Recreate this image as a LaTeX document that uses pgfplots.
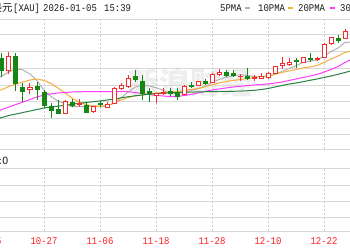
\documentclass[border=0pt]{standalone}
\usepackage{fontspec}
\usepackage{pgfplots}
\pgfplotsset{compat=1.18}
\usepackage{pgfplotstable}
\newfontfamily\mono{Liberation Mono}[FakeStretch=0.87]
\newfontfamily\cjk{Noto Sans CJK SC}
\newfontfamily\sans{DejaVu Sans}

\definecolor{cred}{RGB}{245,45,45}
\definecolor{cgreen}{RGB}{20,135,20}
\definecolor{maA}{RGB}{178,178,178}
\definecolor{maB}{RGB}{245,175,60}
\definecolor{maC}{RGB}{255,60,255}
\definecolor{maD}{RGB}{40,130,70}
\definecolor{gridc}{RGB}{216,216,216}
\definecolor{sepc}{RGB}{182,182,182}
\definecolor{vgrid}{RGB}{205,205,205}
\definecolor{wm}{RGB}{238,238,238}
\definecolor{tickred}{RGB}{255,30,30}
\definecolor{txt}{RGB}{30,30,30}

\pgfdeclareplotmark{candleup}{%
  \pgfmathsetmacro\cya{\candC-\candH}%
  \pgfmathsetmacro\cyb{\candC-\candL}%
  \pgfmathsetmacro\cyo{\candC-\candO}%
  \pgfsetlinewidth{1pt}%
  \pgfsetstrokecolor{cred}%
  \pgfpathmoveto{\pgfpoint{0pt}{\cya pt}}%
  \pgfpathlineto{\pgfpoint{0pt}{\cyb pt}}%
  \pgfusepath{stroke}%
  \pgfsetfillcolor{white}%
  \pgfpathrectanglecorners{\pgfpoint{-2pt}{0pt}}{\pgfpoint{2pt}{\cyo pt}}%
  \pgfusepath{fill,stroke}%
}
\pgfdeclareplotmark{candledown}{%
  \pgfmathsetmacro\cya{\candC-\candH}%
  \pgfmathsetmacro\cyb{\candC-\candL}%
  \pgfmathsetmacro\cyo{\candC-\candO}%
  \pgfsetlinewidth{1pt}%
  \pgfsetstrokecolor{cgreen}%
  \pgfpathmoveto{\pgfpoint{0pt}{\cya pt}}%
  \pgfpathlineto{\pgfpoint{0pt}{\cyb pt}}%
  \pgfusepath{stroke}%
  \pgfsetfillcolor{cgreen}%
  \pgfpathrectanglecorners{\pgfpoint{-2pt}{0pt}}{\pgfpoint{2pt}{\cyo pt}}%
  \pgfusepath{fill,stroke}%
}

% candles: i = day index (0 = 10-27), o h l c = levels on the chart scale (downward)
\pgfplotstableread{
i o h l c
-5 70 52 74 56
-2 89.5 83 94 87
3 113 100 114 101
5 104 99 107 103
7 111 106 113 106.5
9 107 101.5 108 104
10 103 87 104 88.5
11 88 83 90 85.5
12 86 75 88 78.5
16 95.7 93 103 93.5
17 93 88 95 92
20 94 85 95 86
22 85 81 86 81.7
24 82 73 83 74
25 74.5 69 76 72.5
28 76.7 74 80.7 76
30 78.5 75 80.5 77
31 78.3 73 79 76
32 77.3 71.7 79.3 73.3
33 73.3 65.7 74 66.7
34 65 56.7 69 63
35 64 58.3 65.7 62.8
37 62.3 56.7 62.7 57.7
39 59.7 56.7 61 58.3
40 57.7 43.3 58.3 44.3
41 43.3 36.7 45 37.7
43 38.3 29 39 31.7
}\upc
\pgfplotstableread{
i o h l c
-6 58 53 77 70
-4 56 53 91 83
-3 87.5 83 102 91
-1 86 82 100 89.5
0 92 90 108 105
1 106 103 118 110
2 109 100 114 113
4 102 99 107 105
6 105 103 113 112.7
8 103.5 101 107 104.5
13 76.5 70 82 79.5
14 81 75 100 93
15 91.5 88 101.5 93.5
18 91 88 96 93
19 92 88 100 96
21 85 82 88 86.5
23 81.5 79 85 83.5
26 72.5 70 77 75
27 73 70 77 75.5
29 76 68 80 78.3
36 60 58.3 68 61.7
38 58.3 53.3 61.7 59.7
42 38.3 35 43.3 40
44 31 29 63 57
}\downc
\pgfplotstableread{
i m5 m10 m20 m30
-7 79 92 112 119.5
-6 76 89.5 109.5 117.5
-5 72 86.5 107 115.5
-4 69 84 104.5 114
-3 70 82 102 112.5
-2 74 80 99.5 111
-1 80.5 79 97 109.5
0 90.5 80.5 95 108
1 96.5 83.5 93.8 107
2 101 88 93 106.2
3 103.7 93 92.5 105.3
4 106.8 98 92 104.3
5 106.4 102 91.8 103.3
6 106.9 104.5 91.7 102.5
7 105.7 106 91.7 101.7
8 106.4 106.5 91.7 101
9 106.2 105.5 91.7 100
10 103.3 103 91.7 99
11 97.9 100 91.7 97.8
12 92.2 97.5 91.7 96.8
13 87.2 96 92.5 95.8
14 85 95 93.5 95
15 86 94 94.5 94.2
16 87.6 93 95.3 93.6
17 90.3 92.5 96 93.2
18 93 92 96.5 92.8
19 93.6 91.5 96.5 92.5
20 92.1 90.5 95.5 92.3
21 90.7 89.5 94.5 92.1
22 88.6 88.5 93 91.9
23 86.7 86.5 91.5 91.7
24 82.3 85 90 91.6
25 79.6 83 89 91.5
26 77.3 81.5 88 91.4
27 76.1 80.5 87 91.3
28 74.6 79.5 86.3 91.1
29 75.5 78.5 85.6 90.8
30 76.4 77.5 85 90.3
31 76.6 76.7 84.5 89.6
32 76.3 75.5 84 88.5
33 74.4 74 83 87
34 71.4 72.5 82 85.5
35 68.6 71 80.5 84
36 65.7 69.5 79 83
37 62.5 68 77.5 81.7
38 61.1 67 76 80.3
39 60 65.5 74.5 79
40 56.3 62.5 72 77.5
41 51.5 59 69.5 76
42 48 56 66.5 74.3
43 42.4 52.5 62.5 72.5
44 42.1 51 59 70.5
}\mat

\pgfplotsset{
  candlebase/.style={
    only marks, scatter,
    visualization depends on={\thisrow{o} \as \candO},
    visualization depends on={\thisrow{h} \as \candH},
    visualization depends on={\thisrow{l} \as \candL},
    visualization depends on={\thisrow{c} \as \candC},
    scatter/@pre marker code/.code={},
    scatter/@post marker code/.code={},
  },
  panel/.style={
    scale only axis, width=406pt,
    xmin=-10.2857, xmax=47.7143,
    axis line style={draw=none},
    xtick={-8,0,...,40},
    major tick length=0pt,
    xmajorgrids, ymajorgrids,
    x grid style={vgrid, line width=0.8pt, dash pattern=on 2pt off 2pt},
    y grid style={gridc, line width=1pt},
    yticklabels={},
    extra y tick labels={},
    clip=false,
  },
}

\begin{document}
\begin{tikzpicture}
\useasboundingbox (0pt,0pt) rectangle (350pt,250pt);
\clip (0pt,0pt) rectangle (350pt,250pt);
\fill[white] (0pt,0pt) rectangle (350pt,250pt);
\node[text=wm, font=\cjk\bfseries\fontsize{31}{31}\selectfont, inner sep=0pt] at (190pt,167pt) {新浪财经};

\begin{axis}[panel,
  at={(-28pt,101pt)}, anchor=south west, height=130pt,
  ymin=19, ymax=149, y dir=reverse,
  xticklabels={},
  ytick={19,34.3,51.7,68.3,85,101.7,118.3,134},
  extra y ticks={149},
  extra y tick style={grid style={sepc, line width=1.6pt}},
]
\addplot[maA, line width=1pt] table[x=i,y=m5]{\mat};
\addplot[maB, line width=1pt] table[x=i,y=m10]{\mat};
\addplot[maC, line width=1pt] table[x=i,y=m20]{\mat};
\addplot[maD, line width=1pt] table[x=i,y=m30]{\mat};
\addplot[candlebase, mark=candledown] table[x=i,y=c]{\downc};
\addplot[candlebase, mark=candleup] table[x=i,y=c]{\upc};
\end{axis}

\begin{axis}[panel,
  at={(-28pt,19pt)}, anchor=south west, height=63pt,
  ymin=19, ymax=82,
  xticklabels={10-15,10-27,11-06,11-18,11-28,12-10,12-22},
  xticklabel style={text=tickred, font=\mono\fontsize{10.3}{12}\selectfont, anchor=base, yshift=-13pt},
  ytick={33,49,65},
  extra y ticks={19,82},
  extra y tick style={grid style={sepc, line width=1.6pt}},
]
\addplot[draw=none] coordinates {(0,50)};
\end{axis}

\node[anchor=base west, inner sep=0pt, text=txt, font=\sans\fontsize{10}{12}\selectfont] at (-1.5pt,86pt) {:0};

\node[anchor=base west, inner sep=0pt, text=txt, font=\cjk\fontsize{10.5}{12}\selectfont] at (-8.5pt,238.5pt) {美元};
\begin{scope}[every node/.style={anchor=base west, inner sep=0pt, text=txt, font=\mono\fontsize{10.3}{12}\selectfont}]
\node at (13pt,238.5pt) {[XAU]};
\node at (43pt,238.5pt) {2026-01-05};
\node at (104pt,238.5pt) {15:39};
\node at (220pt,238.5pt) {5PMA};
\node at (258pt,238.5pt) {10PMA};
\node at (298pt,238.5pt) {20PMA};
\node at (340pt,238.5pt) {30PMA};
\end{scope}
\fill[maA] (245pt,241pt) rectangle (250pt,243pt);
\fill[maB] (288pt,241pt) rectangle (293pt,243pt);
\fill[maC] (330pt,241pt) rectangle (335pt,243pt);
\end{tikzpicture}
\end{document}
